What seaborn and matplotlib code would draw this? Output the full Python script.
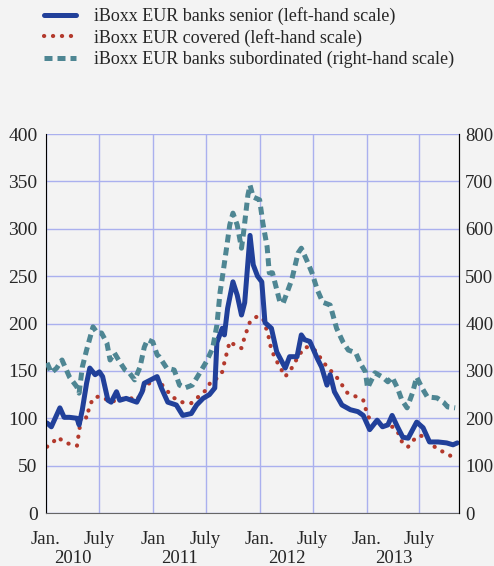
import matplotlib
matplotlib.use('Agg')
import matplotlib.pyplot as plt
import matplotlib.transforms as mtransforms
import seaborn as sns
import pandas as pd

# time given as decimal years, values in basis points
senior_t = [2010.01, 2010.05, 2010.13, 2010.17, 2010.22, 2010.29, 2010.31, 2010.34, 2010.38, 2010.41,
            2010.46, 2010.50, 2010.53, 2010.58, 2010.61, 2010.66, 2010.69, 2010.75, 2010.80, 2010.85,
            2010.90, 2010.92, 2011.04, 2011.08, 2011.14, 2011.22, 2011.28, 2011.36, 2011.41, 2011.47,
            2011.53, 2011.58, 2011.60, 2011.65, 2011.67, 2011.70, 2011.75, 2011.79, 2011.83, 2011.86,
            2011.91, 2011.94, 2011.98, 2012.02, 2012.05, 2012.11, 2012.16, 2012.24, 2012.28, 2012.35,
            2012.39, 2012.42, 2012.47, 2012.54, 2012.58, 2012.63, 2012.66, 2012.70, 2012.77, 2012.85,
            2012.92, 2012.97, 2013.03, 2013.10, 2013.15, 2013.20, 2013.24, 2013.29, 2013.34, 2013.39,
            2013.47, 2013.53, 2013.59, 2013.67, 2013.75, 2013.81, 2013.85]
senior_v = [95, 91, 111, 101, 101, 100, 93, 109, 137, 153,
            146, 149, 144, 119, 117, 128, 119, 121, 119, 117,
            128, 137, 144, 132, 117, 114, 103, 105, 114, 121,
            125, 132, 180, 195, 188, 216, 244, 230, 209, 222,
            293, 262, 250, 244, 201, 195, 170, 153, 165, 165,
            188, 183, 181, 163, 154, 135, 146, 128, 114, 109,
            107, 103, 88, 98, 91, 93, 103, 91, 80, 79,
            96, 90, 75, 75, 74, 72, 74]

covered_t = [2010.01, 2010.06, 2010.11, 2010.17, 2010.24, 2010.29, 2010.31, 2010.34, 2010.38, 2010.41,
             2010.45, 2010.50, 2010.55, 2010.60, 2010.66, 2010.73, 2010.80, 2010.85, 2010.90, 2010.94,
             2011.04, 2011.11, 2011.19, 2011.27, 2011.36, 2011.42, 2011.50, 2011.55, 2011.60, 2011.65,
             2011.67, 2011.72, 2011.77, 2011.83, 2011.86, 2011.91, 2011.97, 2012.03, 2012.08, 2012.11,
             2012.17, 2012.24, 2012.30, 2012.36, 2012.42, 2012.47, 2012.54, 2012.58, 2012.66, 2012.73,
             2012.82, 2012.92, 2012.97, 2013.01, 2013.05, 2013.10, 2013.15, 2013.20, 2013.25, 2013.30,
             2013.34, 2013.39, 2013.44, 2013.50, 2013.57, 2013.61, 2013.69, 2013.73, 2013.78, 2013.82]
covered_v = [70, 74, 80, 75, 72, 71, 86, 109, 100, 114,
             122, 123, 121, 117, 119, 121, 121, 119, 128, 135,
             142, 132, 122, 117, 116, 122, 130, 140, 142, 149,
             159, 181, 177, 174, 186, 202, 207, 206, 188, 172,
             158, 144, 153, 165, 175, 175, 170, 161, 151, 142,
             127, 122, 119, 103, 96, 95, 92, 91, 91, 84,
             73, 70, 77, 82, 79, 72, 66, 64, 61, 56]

sub_t = [2010.01, 2010.05, 2010.10, 2010.15, 2010.22, 2010.29, 2010.31, 2010.34, 2010.38, 2010.44,
         2010.48, 2010.52, 2010.57, 2010.60, 2010.64, 2010.69, 2010.74, 2010.78, 2010.83, 2010.88,
         2010.92, 2010.95, 2011.00, 2011.04, 2011.06, 2011.13, 2011.20, 2011.25, 2011.30, 2011.37,
         2011.44, 2011.50, 2011.56, 2011.60, 2011.63, 2011.65, 2011.69, 2011.72, 2011.75, 2011.79,
         2011.83, 2011.85, 2011.89, 2011.91, 2011.94, 2012.00, 2012.03, 2012.07, 2012.09, 2012.12,
         2012.19, 2012.22, 2012.30, 2012.36, 2012.39, 2012.44, 2012.49, 2012.54, 2012.59, 2012.66,
         2012.72, 2012.78, 2012.83, 2012.90, 2012.94, 2012.99, 2013.01, 2013.08, 2013.15, 2013.20,
         2013.24, 2013.29, 2013.33, 2013.38, 2013.43, 2013.47, 2013.52, 2013.57, 2013.66, 2013.72,
         2013.76, 2013.83]
sub_v = [317, 296, 306, 323, 287, 266, 253, 308, 344, 393,
         380, 380, 359, 323, 338, 319, 302, 296, 281, 308,
         350, 366, 361, 334, 330, 306, 302, 270, 264, 270,
         296, 319, 348, 397, 467, 496, 559, 608, 633, 608,
         559, 593, 671, 692, 667, 661, 612, 562, 507, 507,
         445, 443, 492, 549, 559, 534, 507, 471, 445, 439,
         390, 361, 344, 338, 317, 298, 264, 296, 287, 277,
         287, 264, 239, 222, 253, 287, 264, 245, 243, 234,
         224, 222]

month_ticks = ['2010-01-01', '2010-07-01', '2011-01-01', '2011-07-01',
               '2012-01-01', '2012-07-01', '2013-01-01', '2013-07-01']
month_labels = ['Jan.', 'July', 'Jan', 'July', 'Jan.', 'July', 'Jan.', 'July']
years = ['2010', '2011', '2012', '2013']

BLUE = '#21409a'
RED = '#b3392c'
TEAL = '#4e8693'
BG = '#f3f3f3'
GRID = '#aab0ee'


def to_dates(ts):
    base = pd.Timestamp('2010-01-01')
    return [base + pd.Timedelta(days=(t - 2010) * 365.25) for t in ts]


senior = pd.DataFrame({'date': to_dates(senior_t), 'value': senior_v})
covered = pd.DataFrame({'date': to_dates(covered_t), 'value': covered_v})
sub = pd.DataFrame({'date': to_dates(sub_t), 'value': sub_v})

sns.set_style('white', {'axes.facecolor': BG, 'figure.facecolor': BG})
plt.rcParams['font.family'] = ['Liberation Serif', 'DejaVu Serif']

fig = plt.figure(figsize=(4.94, 5.66), dpi=100)
ax = fig.add_axes([0.0931, 0.0936, 0.836, 0.6696])
ax2 = ax.twinx()

sns.lineplot(data=covered, x='date', y='value', ax=ax, color=RED, lw=3.0,
             linestyle=(0, (0.05, 2.1)), dash_capstyle='round',
             label='iBoxx EUR covered (left-hand scale)')
sns.lineplot(data=senior, x='date', y='value', ax=ax, color=BLUE, lw=3.6,
             label='iBoxx EUR banks senior (left-hand scale)')
sns.lineplot(data=sub, x='date', y='value', ax=ax2, color=TEAL, lw=3.6,
             linestyle=(0, (1.6, 1.0)),
             label='iBoxx EUR banks subordinated (right-hand scale)')

h1, l1 = ax.get_legend_handles_labels()
h2, l2 = ax2.get_legend_handles_labels()
ax.get_legend().remove()
ax2.get_legend().remove()
handles = [h1[1], h1[0], h2[0]]
labels = [l1[1], l1[0], l2[0]]
fig.legend(handles, labels, loc='upper left', bbox_to_anchor=(0.063, 1.01),
           frameon=False, fontsize=13, handlelength=1.8, handletextpad=1.0,
           labelspacing=0.22, borderaxespad=0.3)

xmin = pd.Timestamp('2010-01-01')
xmax = pd.Timestamp('2013-11-13')
ax.set_xlim(xmin, xmax)
ax.set_ylim(0, 400)
ax2.set_ylim(0, 800)
ax.set_yticks(range(0, 401, 50))
ax2.set_yticks(range(0, 801, 100))
ax.set_xticks(pd.to_datetime(month_ticks))
ax.set_xticklabels(month_labels)
ax.set_xlabel('')
ax.set_ylabel('')
ax2.set_ylabel('')

ax.grid(True, color=GRID, lw=1.0)
ax.set_axisbelow(True)
ax.spines['top'].set_visible(False)
ax2.spines['top'].set_visible(False)
ax.spines['left'].set_color('black')
ax2.spines['right'].set_color('black')
ax2.spines['left'].set_visible(False)
ax2.spines['bottom'].set_visible(False)
ax.spines['bottom'].set_color('#666666')

ax.tick_params(axis='y', length=0, labelsize=14, pad=6)
ax2.tick_params(axis='y', length=0, labelsize=13.5, pad=4.5)
ax.tick_params(axis='x', length=5, width=1.2, color='#222222', labelsize=13.5, pad=8)

trans = mtransforms.blended_transform_factory(ax.transData, ax.transAxes)
for yr in years:
    ax.text(pd.Timestamp(yr + '-04-03'), -0.12, yr, transform=trans,
            ha='center', va='center', fontsize=13.5)

fig.savefig('out.png', dpi=100, facecolor=BG)
